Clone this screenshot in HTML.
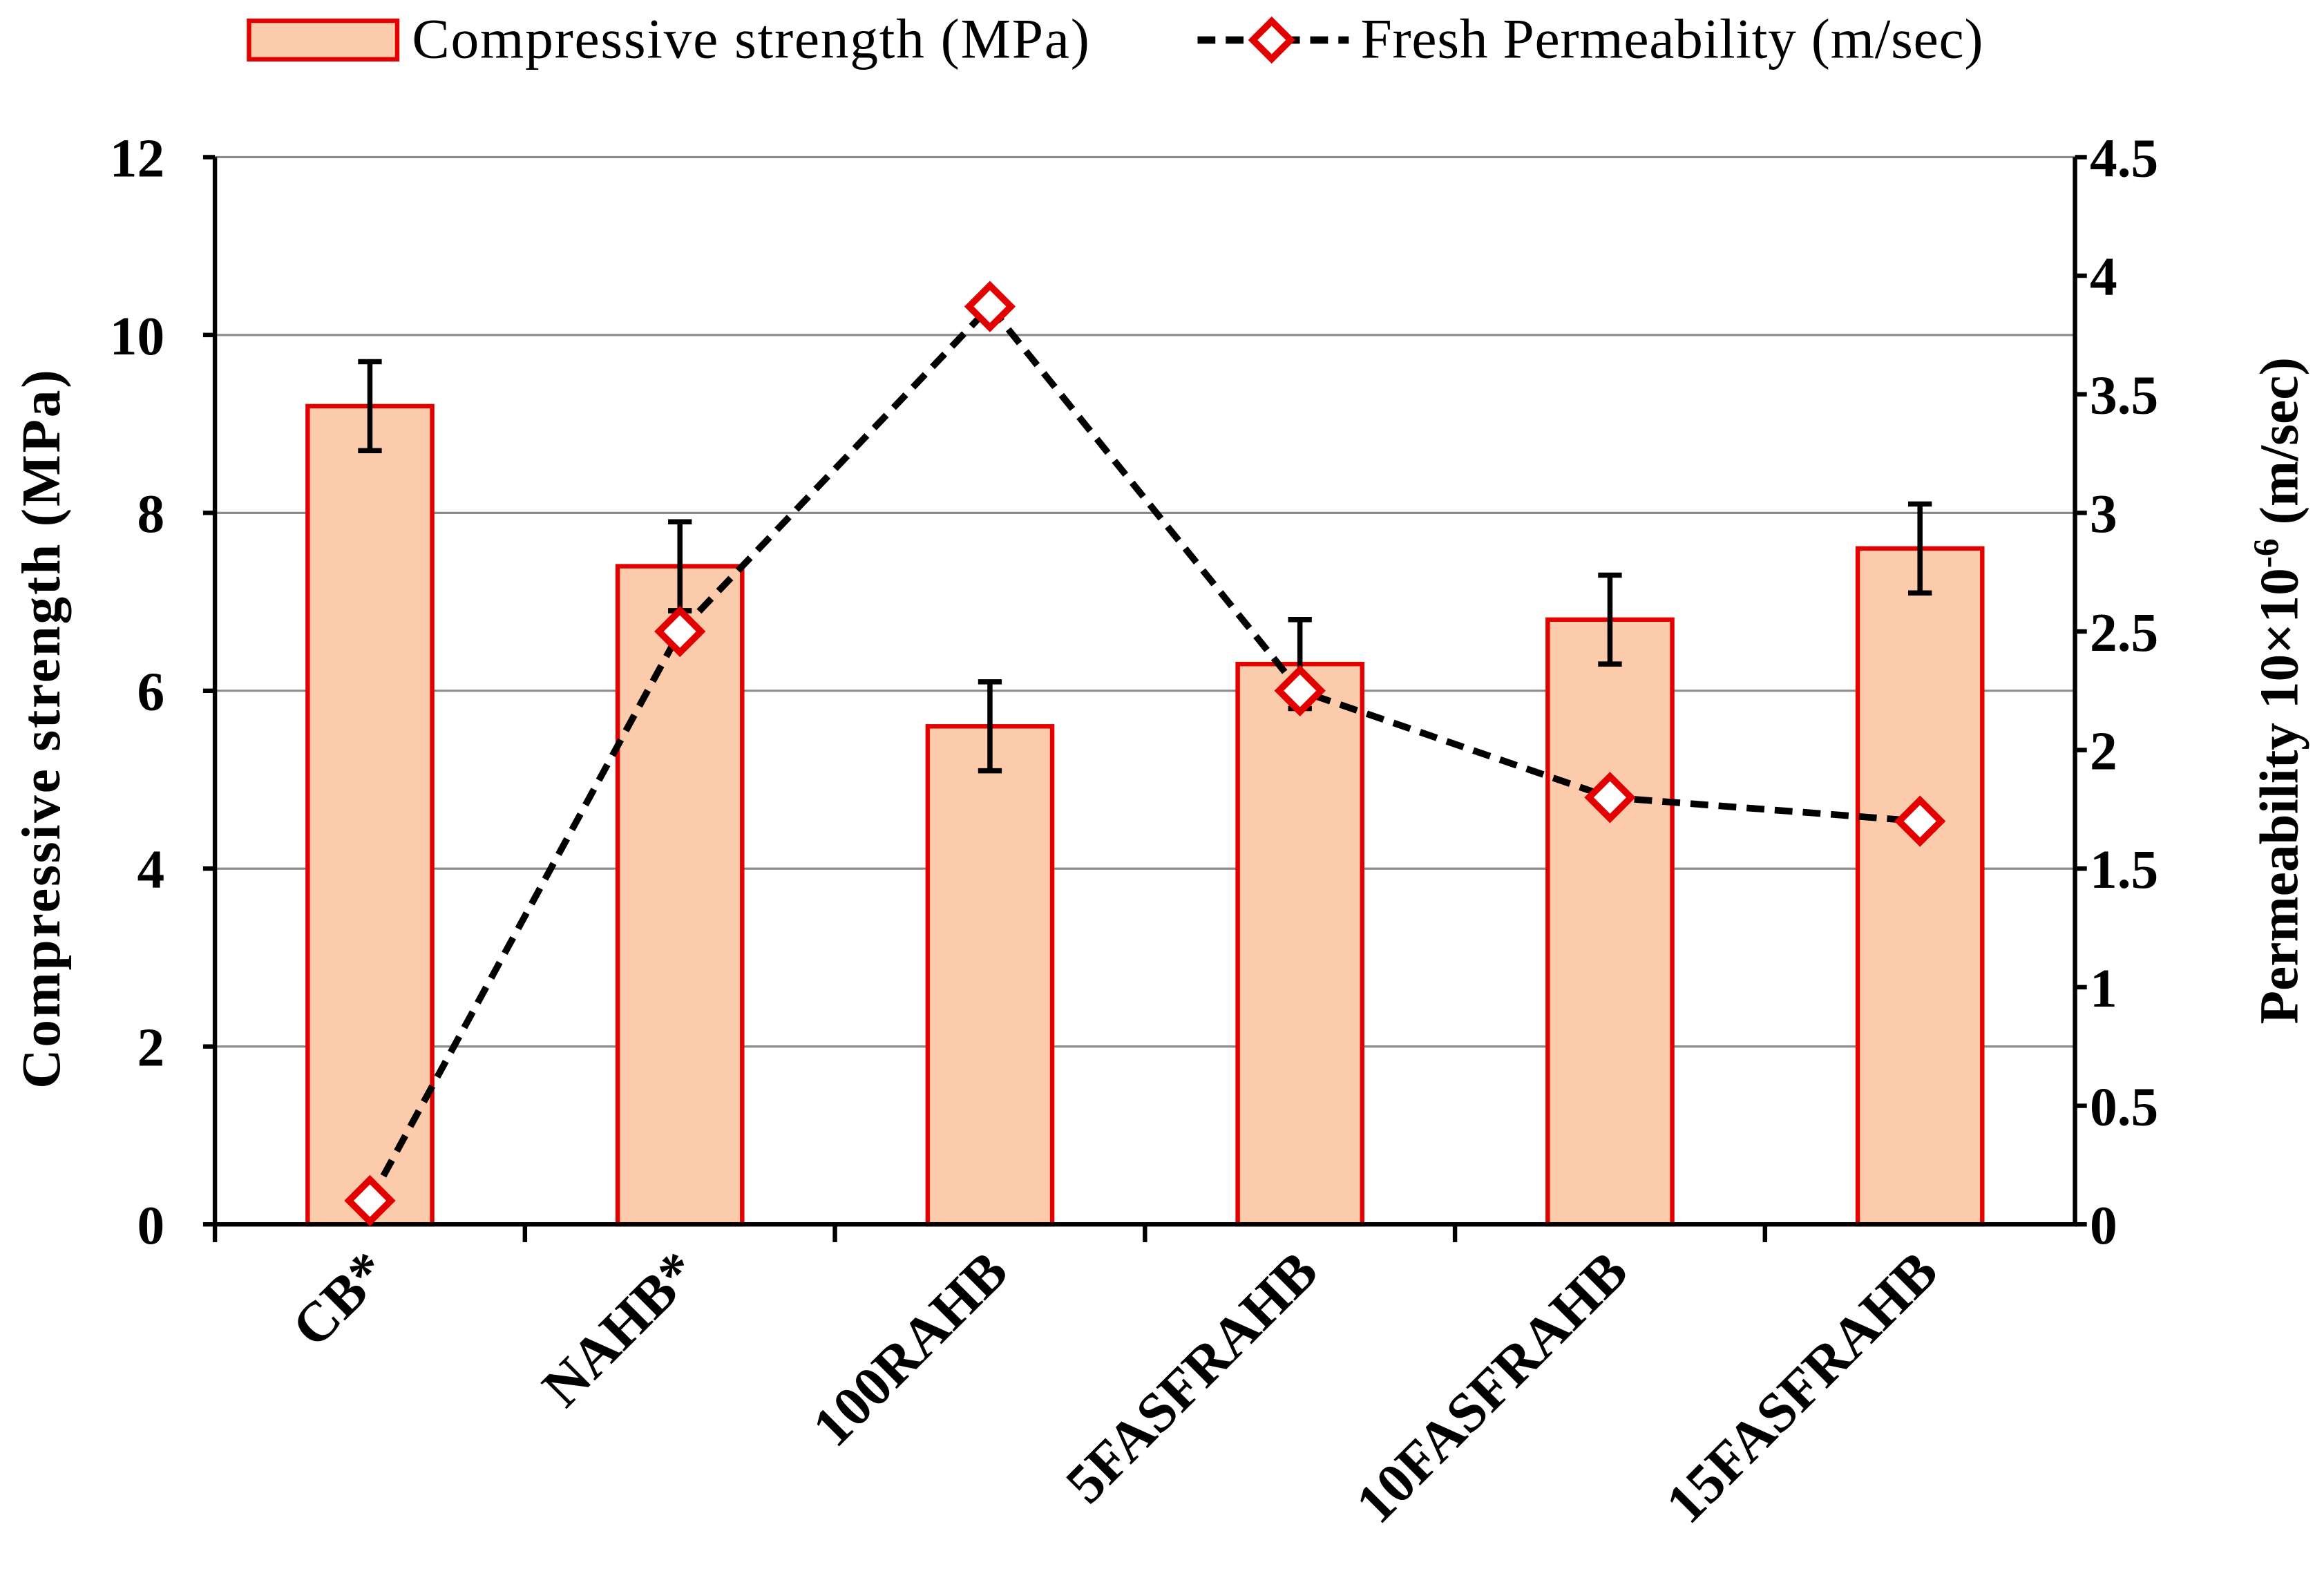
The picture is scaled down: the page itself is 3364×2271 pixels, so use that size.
<!DOCTYPE html>
<html><head><meta charset="utf-8"><style>
html,body{margin:0;padding:0;background:#fff;}
svg{display:block;font-family:"Liberation Serif",serif;}
</style></head><body>
<svg id="chart" width="3364" height="2271" viewBox="0 0 1568 1058.5" preserveAspectRatio="none" xmlns="http://www.w3.org/2000/svg">
<g id="legend">
  <rect x="168" y="14" width="100" height="26" fill="#fccbab" stroke="#e30000" stroke-width="3"/>
  <text x="278" y="39" font-size="38" textLength="457">Compressive strength  (MPa)</text>
  <line x1="808" y1="27" x2="910" y2="27" stroke="#000" stroke-width="5" stroke-dasharray="12,7"/>
  <rect x="849" y="18" width="18" height="18" transform="rotate(45 858 27)" fill="#fff" stroke="#e30000" stroke-width="4.5"/>
  <text x="918" y="39" font-size="38" textLength="420">Fresh Permeability (m/sec)</text>
</g>
<g id="grid"></g><g id="bars"></g><g id="axes"></g><g id="line"></g>
<text transform="translate(40,492) rotate(-90)" text-anchor="middle" font-size="37" font-weight="bold" textLength="485">Compressive strength  (MPa)</text>
<text transform="translate(1550,466) rotate(-90)" text-anchor="middle" font-size="37" font-weight="bold">Permeability 10×10<tspan baseline-shift="super" font-size="24">-6</tspan> (m/sec)</text>
</svg>
<script>
const categories=["CB*","NAHB*","100RAHB","5FASFRAHB","10FASFRAHB","15FASFRAHB"];
const strength=[9.2,7.4,5.6,6.3,6.8,7.6];
const strengthErr=[0.5,0.5,0.5,0.5,0.5,0.5];
const permeability=[0.1,2.5,3.87,2.25,1.8,1.7];
const leftTicks=[0,2,4,6,8,10,12];
const rightTicks=["0","0.5","1","1.5","2","2.5","3","3.5","4","4.5"];
const NS="http://www.w3.org/2000/svg";
const L=145,R=1400,T=106,B=826;
const yL=v=>B-(v/12)*(B-T);
const yR=v=>B-(v/4.5)*(B-T);
const band=(R-L)/categories.length;
const xC=i=>L+band*(i+0.5);
function mk(parent,tag,attrs){const e=document.createElementNS(NS,tag);for(const k in attrs)e.setAttribute(k,attrs[k]);document.getElementById(parent).appendChild(e);return e;}
leftTicks.forEach(v=>{if(v>0){const g=mk('grid','line',{x1:L,x2:R,y1:yL(v),y2:yL(v),stroke:'#8c8c8c','stroke-width':1.5});

}});
strength.forEach((v,i)=>{
 const b=mk('bars','rect',{x:xC(i)-42,y:yL(v),width:84,height:B-yL(v),fill:'#fccbab',stroke:'#e30000','stroke-width':3});
 
 
 const e=strengthErr[i];
 const p=mk('bars','path',{d:`M${xC(i)},${yL(v+e)}V${yL(v-e)}M${xC(i)-8},${yL(v+e)}H${xC(i)+8}M${xC(i)-8},${yL(v-e)}H${xC(i)+8}`,stroke:'#000','stroke-width':3.5,fill:'none'});
 
 
});
const ax=mk('axes','path',{d:`M${L},${T}V${B}H${R}V${T}`,stroke:'#000','stroke-width':3,fill:'none'});


leftTicks.forEach(v=>{
 mk('axes','line',{x1:L-8,x2:L,y1:yL(v),y2:yL(v),stroke:'#000','stroke-width':3});
 const t=mk('axes','text',{x:L-34,y:yL(v)+13,'text-anchor':'end','font-size':37,'font-weight':'bold'});
 t.textContent=v;
 
 
});
rightTicks.forEach(s=>{
 const v=parseFloat(s);
 mk('axes','line',{x1:R,x2:R+8,y1:yR(v),y2:yR(v),stroke:'#000','stroke-width':3});
 const t=mk('axes','text',{x:R+10,y:yR(v)+13,'font-size':37,'font-weight':'bold'});
 t.textContent=s;
 
 
});
categories.forEach((c,i)=>{
 const x0=L+band*i;
 mk('axes','line',{x1:x0,x2:x0,y1:B,y2:B+12,stroke:'#000','stroke-width':3});
 const t=mk('axes','text',{transform:`translate(${xC(i)+14},${860}) rotate(-45)`,'text-anchor':'end','font-size':38,'font-weight':'bold'});
 t.textContent=c;
 
 
});
const pl=mk('line','polyline',{points:permeability.map((v,i)=>xC(i)+','+yR(v)).join(' '),fill:'none',stroke:'#000','stroke-width':4.5,'stroke-dasharray':'12,7'});


permeability.forEach((v,i)=>{
 const m=mk('line','rect',{x:xC(i)-10,y:yR(v)-10,width:20,height:20,transform:`rotate(45 ${xC(i)} ${yR(v)})`,fill:'#fff',stroke:'#e30000','stroke-width':4.5});
 
 
});
</script>
</body></html>
